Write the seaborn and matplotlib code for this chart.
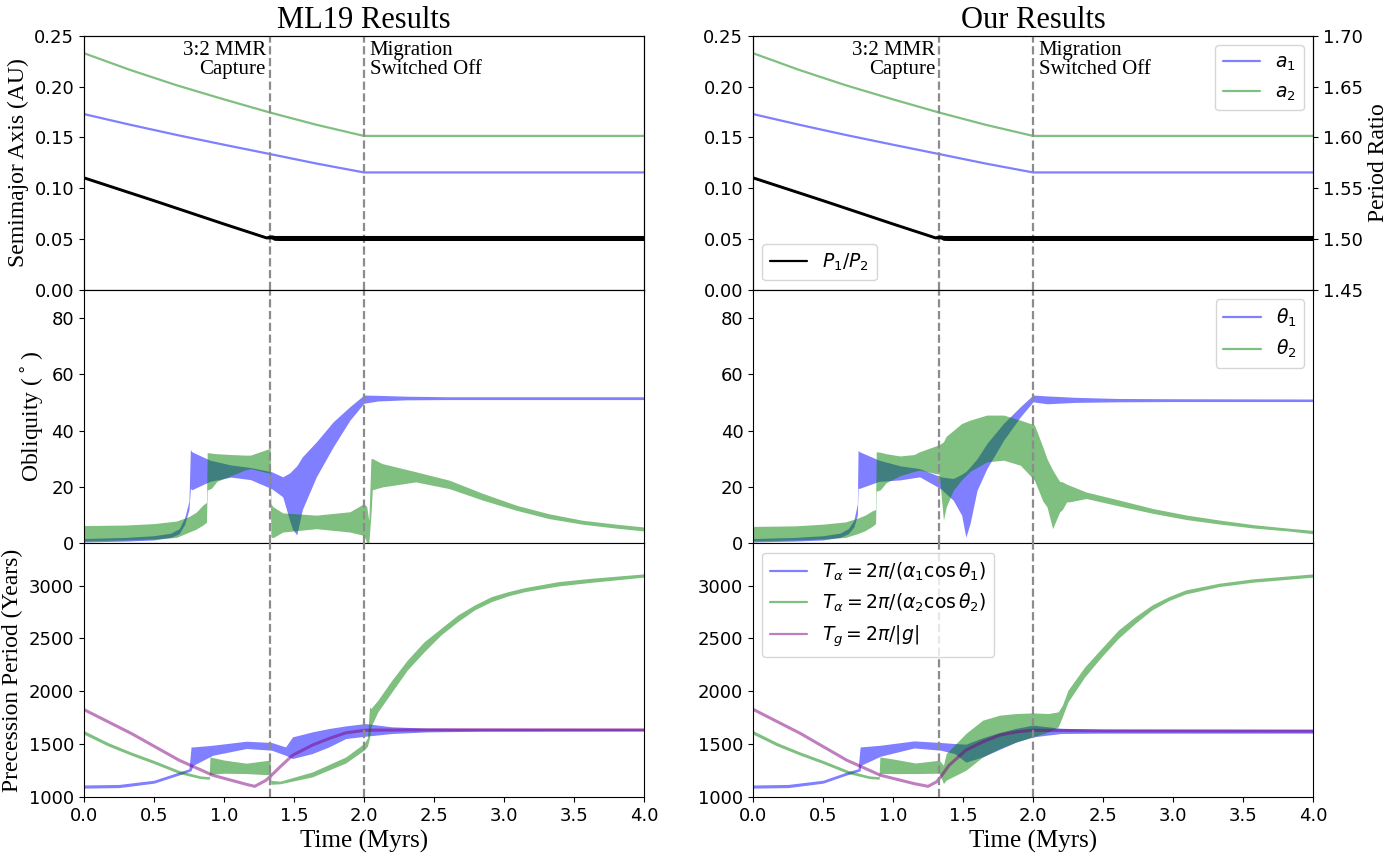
import matplotlib
matplotlib.use("Agg")
import matplotlib.pyplot as plt
import seaborn as sns
from matplotlib.lines import Line2D

# ---------------- data ----------------
# semimajor axes (same in both columns)
t_a = [0.0, 0.33, 0.66, 1.0, 1.33, 1.66, 2.0, 4.0]
a1 = [0.173, 0.1625, 0.1525, 0.1428, 0.1336, 0.1243, 0.1155, 0.1155]
a2 = [0.233, 0.2165, 0.2015, 0.1875, 0.1745, 0.1625, 0.1515, 0.1515]

# period ratio P1/P2 (band: low / high)
t_pr = [0.0, 0.5, 1.0, 1.2, 1.3, 1.34, 1.36, 1.4, 4.0]
pr_lo = [1.5597, 1.5372, 1.5142, 1.5052, 1.5007, 1.5007, 1.4993, 1.4991, 1.4991]
pr_hi = [1.5613, 1.5388, 1.5158, 1.5068, 1.5023, 1.5033, 1.5027, 1.5027, 1.5027]

# obliquity, ML19 column
t_th1_ml = [0.0, 0.3, 0.5, 0.62, 0.68, 0.72, 0.75, 0.76, 0.77, 0.9, 1.05, 1.19, 1.34, 1.42,
            1.47, 1.49, 1.52, 1.56, 1.66, 1.78, 1.90, 2.0, 2.1, 2.3, 2.6, 3.0, 4.0]
th1_ml_lo = [0.5, 0.8, 1.2, 2.1, 3.4, 6.8, 12, 19.5, 19, 22, 23.5, 22.6, 19.4, 16.5,
             8, 5, 3, 12, 23.6, 34.2, 43.7, 49.7, 50.5, 50.9, 51.0, 51.0, 51.0]
th1_ml_hi = [1.7, 2.1, 2.7, 3.6, 5.2, 9.2, 15, 33.3, 32.5, 29.5, 27.8, 26.9, 25.4, 23.6,
             25, 26, 27.5, 30.7, 36, 43.1, 48.5, 52.6, 52.5, 52.2, 52.0, 52.0, 52.0]

t_th2_ml = [0.0, 0.3, 0.5, 0.66, 0.75, 0.8, 0.85, 0.875, 0.88, 0.91, 0.95, 1.05, 1.15, 1.19,
            1.33, 1.335, 1.35, 1.42, 1.66, 1.90, 2.0, 2.02, 2.035, 2.05, 2.06, 2.13, 2.37,
            2.61, 2.85, 3.09, 3.32, 3.56, 3.80, 4.0]
th2_ml_lo = [0.9, 1.2, 1.6, 2.1, 4.0, 5.0, 6.5, 7.5, 18.9, 19.5, 22, 24, 26, 26.5,
             24.8, 2.3, 2.0, 4.0, 5.2, 4.0, 2.8, 0.3, 0.3, 10, 19, 20, 21.8,
             19.4, 15.3, 11.7, 8.8, 6.8, 5.4, 4.4]
th2_ml_hi = [6.3, 6.5, 7.0, 7.9, 9.5, 11, 13.6, 14.5, 32.2, 32, 31.8, 31.5, 31.3, 31.3,
             33.7, 14.1, 13, 10.8, 10, 11.2, 14.1, 13, 8, 30, 30.1, 28.3, 25.4,
             22.4, 17.7, 13.5, 10.5, 8.2, 6.8, 5.8]

# obliquity, our column
t_th1_us = [0.0, 0.3, 0.5, 0.62, 0.68, 0.72, 0.745, 0.75, 0.76, 0.9, 1.05, 1.19, 1.34, 1.43,
            1.49, 1.52, 1.55, 1.6, 1.67, 1.79, 1.91, 2.0, 2.1, 2.3, 2.6, 3.0, 4.0]
th1_us_lo = [0.5, 0.8, 1.2, 2.1, 3.4, 5.8, 10, 19.5, 19.5, 22, 22.5, 23.6, 19.4, 15.3,
             10, 2.2, 7, 18.8, 26.5, 36.6, 44.9, 50.2, 49.5, 50.0, 50.2, 50.3, 50.3]
th1_us_hi = [1.7, 2.1, 2.7, 3.6, 5.2, 8.2, 14, 33, 32.5, 29.5, 27.5, 26.5, 23.6, 23,
             24.5, 25.5, 27.1, 30, 35.4, 42.6, 48.5, 52.6, 52.3, 51.8, 51.4, 51.3, 51.2]

t_th2_us = [0.0, 0.3, 0.5, 0.66, 0.75, 0.8, 0.85, 0.875, 0.88, 0.91, 0.95, 1.05, 1.15, 1.19,
            1.33, 1.36, 1.38, 1.43, 1.49, 1.55, 1.67, 1.79, 1.91, 2.01, 2.07, 2.1, 2.14,
            2.19, 2.21, 2.24, 2.26, 2.38, 2.62, 2.86, 3.10, 3.34, 3.58, 3.82, 4.0]
th2_us_lo = [0.9, 1.2, 1.6, 2.1, 3.5, 4.5, 6, 7, 18.5, 19, 21.5, 24, 25.5, 26,
             24.5, 8.2, 12.9, 18.8, 22.5, 25.5, 28.9, 29.5, 27.7, 22.4, 15, 12.9, 5.2,
             11.1, 12, 14.7, 14.7, 15.9, 13.2, 10.6, 8.4, 6.8, 5.4, 4.4, 3.4]
th2_us_hi = [6.0, 6.2, 6.8, 7.6, 9, 10, 11.5, 12, 32.5, 32.3, 31.8, 31, 31.5, 32.5,
             35, 36, 38, 40, 42.5, 43.7, 45.5, 45.5, 43.7, 42, 34.2, 30, 26,
             22, 21.8, 21, 20.6, 18.2, 15.3, 12.3, 10, 8.2, 6.6, 5.4, 4.6]

# precession periods, ML19 column
t_ta1_ml = [0.0, 0.25, 0.5, 0.68, 0.75, 0.765, 0.78, 0.92, 1.16, 1.34, 1.44, 1.49, 1.63,
            1.75, 1.87, 2.01, 2.2, 2.45, 2.83, 4.0]
ta1_ml_lo = [1084, 1089, 1131, 1209, 1241, 1250, 1300, 1395, 1459, 1443, 1395, 1364, 1411,
             1474, 1553, 1575, 1601, 1616, 1622, 1624]
ta1_ml_hi = [1114, 1119, 1159, 1237, 1267, 1474, 1474, 1490, 1528, 1516, 1474, 1569, 1616,
             1648, 1673, 1695, 1664, 1652, 1650, 1648]

t_ta2_ml = [0.0, 0.17, 0.34, 0.5, 0.68, 0.83, 0.895, 0.9, 1.0, 1.16, 1.33, 1.335, 1.40,
            1.63, 1.87, 2.0, 2.025, 2.04, 2.05, 2.10, 2.20, 2.31, 2.43, 2.55, 2.67, 2.79,
            2.91, 3.03, 3.15, 3.39, 3.63, 4.0]
ta2_ml_lo = [1594, 1484, 1394, 1316, 1222, 1175, 1168, 1215, 1225, 1222, 1210, 1120, 1125,
             1190, 1322, 1443, 1480, 1560, 1664, 1806, 1995, 2201, 2374, 2533, 2659, 2770,
             2848, 2903, 2943, 2997, 3032, 3080]
ta2_ml_hi = [1628, 1516, 1424, 1346, 1251, 1200, 1192, 1379, 1350, 1320, 1350, 1158, 1150,
             1237, 1379, 1506, 1560, 1853, 1838, 1917, 2106, 2296, 2469, 2596, 2722, 2817,
             2896, 2943, 2981, 3038, 3070, 3111]

t_tg_ml = [0.0, 0.34, 0.68, 0.92, 1.16, 1.22, 1.30, 1.34, 1.40, 1.49, 1.63, 1.75, 1.87,
           2.01, 2.5, 4.0]
tg_ml = [1827, 1600, 1348, 1206, 1120, 1101, 1158, 1206, 1284, 1395, 1490, 1553, 1607,
         1632, 1636, 1636]

# precession periods, our column
t_ta1_us = [0.0, 0.25, 0.5, 0.67, 0.75, 0.765, 0.77, 0.91, 1.15, 1.34, 1.44, 1.52, 1.64,
            1.76, 1.88, 2.0, 2.2, 2.5, 4.0]
ta1_us_lo = [1084, 1089, 1131, 1209, 1241, 1250, 1300, 1386, 1464, 1443, 1411, 1330, 1380,
             1450, 1520, 1569, 1601, 1604, 1604]
ta1_us_hi = [1114, 1119, 1159, 1237, 1267, 1474, 1474, 1490, 1531, 1516, 1506, 1500, 1560,
             1610, 1650, 1680, 1650, 1642, 1640]

t_ta2_us = [0.0, 0.17, 0.34, 0.5, 0.68, 0.83, 0.90, 0.906, 1.0, 1.16, 1.33, 1.36, 1.38,
            1.52, 1.64, 1.76, 1.88, 2.0, 2.11, 2.18, 2.21, 2.25, 2.37, 2.49, 2.61, 2.73,
            2.85, 2.97, 3.09, 3.33, 3.57, 4.0]
ta2_us_lo = [1594, 1484, 1394, 1316, 1222, 1175, 1168, 1222, 1222, 1222, 1225, 1127, 1160,
             1253, 1379, 1459, 1521, 1569, 1616, 1664, 1760, 1900, 2137, 2327, 2501, 2643,
             2770, 2858, 2921, 2991, 3032, 3080]
ta2_us_hi = [1628, 1516, 1424, 1346, 1251, 1200, 1192, 1379, 1360, 1322, 1348, 1300, 1411,
             1601, 1727, 1774, 1790, 1796, 1790, 1806, 1870, 2011, 2232, 2407, 2580, 2706,
             2817, 2896, 2959, 3023, 3064, 3111]

t_tg_us = [0.0, 0.34, 0.67, 0.91, 1.15, 1.25, 1.31, 1.34, 1.40, 1.52, 1.64, 1.76, 1.88,
           2.0, 2.5, 4.0]
tg_us = [1830, 1600, 1348, 1206, 1127, 1101, 1143, 1190, 1300, 1443, 1521, 1585, 1616,
         1632, 1626, 1624]

t_events = [1.33, 2.0]
col_titles = ["ML19 Results", "Our Results"]

SERIF = "Liberation Serif"

# ---------------- style ----------------
sns.set_style("ticks", {"axes.edgecolor": "black", "xtick.color": "black",
                        "ytick.color": "black", "text.color": "black",
                        "axes.labelcolor": "black"})
plt.rcParams["font.family"] = ["DejaVu Sans"]
plt.rcParams["xtick.labelsize"] = 13
plt.rcParams["ytick.labelsize"] = 13
plt.rcParams["legend.fontsize"] = 13.5


def band(ax, t, lo, hi, color):
    # envelope of the fast oscillation
    ax.fill_between(t, lo, hi, color=color, alpha=0.5, linewidth=0)


fig, axes = plt.subplots(3, 2, figsize=(13.95, 8.56), dpi=100, sharex=True)
fig.subplots_adjust(left=0.0602, right=0.9412, bottom=0.0689, top=0.958,
                    hspace=0, wspace=0.195)

obl = [(t_th1_ml, th1_ml_lo, th1_ml_hi, t_th2_ml, th2_ml_lo, th2_ml_hi),
       (t_th1_us, th1_us_lo, th1_us_hi, t_th2_us, th2_us_lo, th2_us_hi)]
prec = [(t_ta1_ml, ta1_ml_lo, ta1_ml_hi, t_ta2_ml, ta2_ml_lo, ta2_ml_hi, t_tg_ml, tg_ml),
        (t_ta1_us, ta1_us_lo, ta1_us_hi, t_ta2_us, ta2_us_lo, ta2_us_hi, t_tg_us, tg_us)]

for c in range(2):
    ax0, ax1, ax2 = axes[0, c], axes[1, c], axes[2, c]

    # --- top: semimajor axes + period ratio
    sns.lineplot(x=t_a, y=a1, ax=ax0, color="blue", alpha=0.5, lw=1.6)
    sns.lineplot(x=t_a, y=a2, ax=ax0, color="green", alpha=0.5, lw=1.6)
    ax0.set_ylim(0, 0.25)
    ax0.set_yticks([0.0, 0.05, 0.10, 0.15, 0.20, 0.25])
    twin = ax0.twinx()
    twin.fill_between(t_pr, pr_lo, pr_hi, facecolor="black", edgecolor="black", linewidth=1.0)
    twin.set_ylim(1.45, 1.70)
    ax0.set_title(col_titles[c], fontsize=22, family=SERIF)
    ax0.text(1.30, 0.2455, "3:2 MMR\nCapture", ha="right", va="top",
             fontsize=15, family=SERIF, linespacing=1.0)
    ax0.text(2.04, 0.2455, "Migration\nSwitched Off", ha="left", va="top",
             fontsize=15, family=SERIF, linespacing=1.0)

    # --- middle: obliquities
    t1, lo1, hi1, t2, lo2, hi2 = obl[c]
    band(ax1, t1, lo1, hi1, "blue")
    band(ax1, t2, lo2, hi2, "green")
    ax1.set_ylim(0, 90)
    ax1.set_yticks([0, 20, 40, 60, 80])

    # --- bottom: precession periods
    t1, lo1, hi1, t2, lo2, hi2, tg, g = prec[c]
    band(ax2, t1, lo1, hi1, "blue")
    band(ax2, t2, lo2, hi2, "green")
    sns.lineplot(x=tg, y=g, ax=ax2, color="purple", alpha=0.5, lw=2.2)
    ax2.set_ylim(1000, 3400)
    ax2.set_yticks([1000, 1500, 2000, 2500, 3000])
    ax2.set_xlim(0, 4)
    ax2.set_xticks([0.0, 0.5, 1.0, 1.5, 2.0, 2.5, 3.0, 3.5, 4.0])
    ax2.set_xlabel("Time (Myrs)", fontsize=18, family=SERIF)

    for ax in (ax0, ax1, ax2):
        for tv in t_events:
            ax.axvline(tv, color="0.55", ls="--", lw=1.6, zorder=5)

    if c == 0:
        twin.set_yticks([])
        ax0.set_ylabel("Semimajor Axis (AU)", fontsize=17, family=SERIF)
        ax1.set_ylabel("Obliquity ($^\\circ$)", fontsize=17, family=SERIF)
        ax2.set_ylabel("Precession Period (Years)", fontsize=17, family=SERIF)
    else:
        twin.set_yticks([1.45, 1.50, 1.55, 1.60, 1.65, 1.70])
        twin.tick_params(labelsize=13)
        twin.set_ylabel("Period Ratio", fontsize=17, family=SERIF)
        ax0.legend(handles=[Line2D([], [], color="blue", alpha=0.5, lw=1.6, label="$a_1$"),
                            Line2D([], [], color="green", alpha=0.5, lw=1.6, label="$a_2$")],
                   loc="upper right")
        twin.legend(handles=[Line2D([], [], color="black", lw=1.6, label="$P_1/P_2$")],
                    loc="lower left")
        ax1.legend(handles=[Line2D([], [], color="blue", alpha=0.5, lw=1.6, label="$\\theta_1$"),
                            Line2D([], [], color="green", alpha=0.5, lw=1.6, label="$\\theta_2$")],
                   loc="upper right")
        ax2.legend(handles=[
            Line2D([], [], color="blue", alpha=0.5, lw=1.6,
                   label="$T_\\alpha = 2\\pi/(\\alpha_1 \\cos\\theta_1)$"),
            Line2D([], [], color="green", alpha=0.5, lw=1.6,
                   label="$T_\\alpha = 2\\pi/(\\alpha_2 \\cos\\theta_2)$"),
            Line2D([], [], color="purple", alpha=0.5, lw=1.6,
                   label="$T_g = 2\\pi/|g|$")],
            loc="upper left")

fig.savefig("out.png", dpi=100)
